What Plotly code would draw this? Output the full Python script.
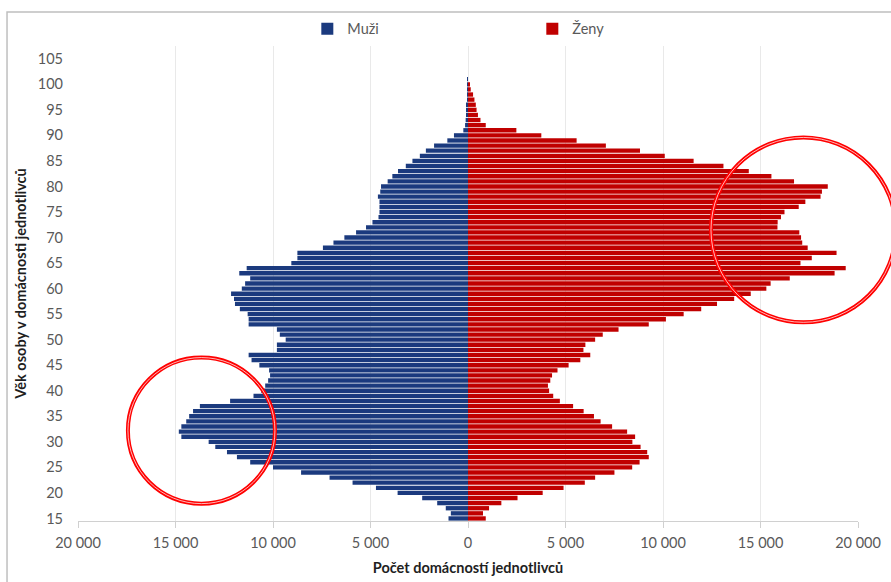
import plotly.graph_objects as go

ages = list(range(15, 108))

men = [1000, 880, 1140, 1580, 2350, 3610, 4720, 5920, 7100, 8560,
       10000, 11170, 11850, 12360, 12960, 13300, 14700, 14830, 14700, 14450,
       14300, 14100, 13750, 12200, 11000, 10600, 10400, 10250, 10150, 10200,
       10700, 11100, 11250, 9800, 9800, 9350, 9650, 9800, 11250, 11250,
       11300, 11700, 11950, 12000, 12150, 11600, 11430, 11170, 11730, 11350,
       9060, 8750, 8750, 7440, 6900, 6340, 5740, 5230, 4900, 4590,
       4540, 4540, 4540, 4620, 4500, 4460, 4120, 3880, 3590, 3190,
       2850, 2470, 2160, 1740, 1060, 720, 240, 150, 120, 100,
       80, 60, 40, 30, 20, 10, 5, 0, 0, 0,
       0, 0, 0]

women = [910, 770, 1080, 1710, 2540, 3830, 4900, 5990, 6520, 7510,
         8420, 8800, 9270, 9190, 8850, 8430, 8570, 8160, 7390, 6800,
         6460, 5930, 5390, 4710, 4370, 4160, 4100, 4220, 4310, 4590,
         5160, 5760, 6270, 5920, 6020, 6520, 6910, 7720, 9270, 10150,
         11060, 11960, 12770, 13650, 14500, 15300, 15520, 16500, 18800, 19370,
         17050, 17630, 18900, 17420, 17140, 17080, 16990, 15870, 15880, 16050,
         16230, 16960, 17300, 18080, 18150, 18450, 16720, 15560, 14400, 13100,
         11570, 10090, 8820, 7070, 5570, 3760, 2480, 910, 640, 510,
         440, 400, 330, 260, 140, 60, 0, 0, 0, 0,
         0, 0, 0]

x_ticks = [-20000, -15000, -10000, -5000, 0, 5000, 10000, 15000, 20000]
x_ticktext = ["20 000", "15 000", "10 000", "5 000", "0", "5 000", "10 000", "15 000", "20 000"]
y_ticks = list(range(15, 106, 5))

series_names = ["Muži", "Ženy"]
colors = ["#1B3A7E", "#C00000"]

X_RANGE = [-20000, 20000]
Y_RANGE = [14.5, 107.5]

# highlighted regions (data units: value, age)
highlights = [
    dict(x0=-17440, x1=-9900, y0=17.9, y1=46.5),
    dict(x0=12460, x1=21940, y0=53.4, y1=89.6),
]

fig = go.Figure()
fig.add_trace(go.Bar(
    y=ages, x=[-v for v in men], orientation="h", name=series_names[0],
    marker=dict(color=colors[0], line=dict(width=0)),
    customdata=men, hovertemplate="%{y}: %{customdata}<extra>Muži</extra>",
))
fig.add_trace(go.Bar(
    y=ages, x=women, orientation="h", name=series_names[1],
    marker=dict(color=colors[1], line=dict(width=0)),
    hovertemplate="%{y}: %{x}<extra>Ženy</extra>",
))

font_family = "Lato, 'Open Sans', sans-serif"
label_color = "#595959"


def to_paper_x(v):
    return (v - X_RANGE[0]) / (X_RANGE[1] - X_RANGE[0])


def to_paper_y(v):
    return (v - Y_RANGE[0]) / (Y_RANGE[1] - Y_RANGE[0])


shapes = []
for h in highlights:
    for col, w in (("#FF0000", 4), ("rgba(255,255,255,0.9)", 0.8)):
        shapes.append(dict(
            type="circle", xref="paper", yref="paper",
            x0=to_paper_x(h["x0"]), x1=to_paper_x(h["x1"]),
            y0=to_paper_y(h["y0"]), y1=to_paper_y(h["y1"]),
            line=dict(color=col, width=w), layer="above",
        ))

# outer chart frame
shapes.append(dict(type="rect", xref="paper", yref="paper",
                   x0=-0.091, x1=1.06, y0=-0.16, y1=1.0716,
                   line=dict(color="#BFBFBF", width=1.5), layer="below"))

fig.update_layout(
    width=891, height=582,
    margin=dict(l=78, r=33, t=46, b=61, autoexpand=False),
    paper_bgcolor="white", plot_bgcolor="white",
    barmode="relative", bargap=0.15,
    font=dict(family=font_family, size=14, color=label_color),
    showlegend=True,
    legend=dict(orientation="h", x=0.294, xanchor="left", y=1.036, yanchor="middle",
                font=dict(size=14.5, color=label_color),
                entrywidth=180, entrywidthmode="pixels",
                itemclick=False, itemdoubleclick=False),
    shapes=shapes,
    xaxis=dict(
        range=X_RANGE, tickvals=x_ticks, ticktext=x_ticktext,
        showgrid=True, gridcolor="#E9E9E9", gridwidth=1,
        zeroline=False, automargin=False,
        showline=True, linecolor="#D0D0D0", linewidth=1,
        ticks="outside", ticklen=6, tickcolor="#D0D0D0",
        ticklabelstandoff=3,
        tickfont=dict(size=14.5, color=label_color),
        title=dict(text="<b>Počet domácností jednotlivců</b>",
                   font=dict(size=14.5, color="#1F1F1F"), standoff=12),
        fixedrange=True,
    ),
    yaxis=dict(
        range=Y_RANGE, tickvals=y_ticks, ticks="", showgrid=False,
        zeroline=False, showline=False, automargin=False,
        tickfont=dict(size=14.5, color=label_color),
        ticklabelstandoff=14,
        title=dict(text="<b>Věk osoby v domácnosti jednotlivců</b>",
                   font=dict(size=14.5, color="#1F1F1F"), standoff=7),
        fixedrange=True,
    ),
    yaxis2=dict(
        range=Y_RANGE, overlaying="y", anchor="free", position=0.5,
        showline=True, linecolor="#BFBFBF", linewidth=1,
        ticks="outside", ticklen=3, tickcolor="#BFBFBF",
        tickmode="linear", tick0=14.5, dtick=1, automargin=False,
        showticklabels=False, showgrid=False, zeroline=False,
        fixedrange=True,
    ),
)

fig.write_html("out.html", config={"displayModeBar": False},
               post_script="document.body.style.margin='0';")
